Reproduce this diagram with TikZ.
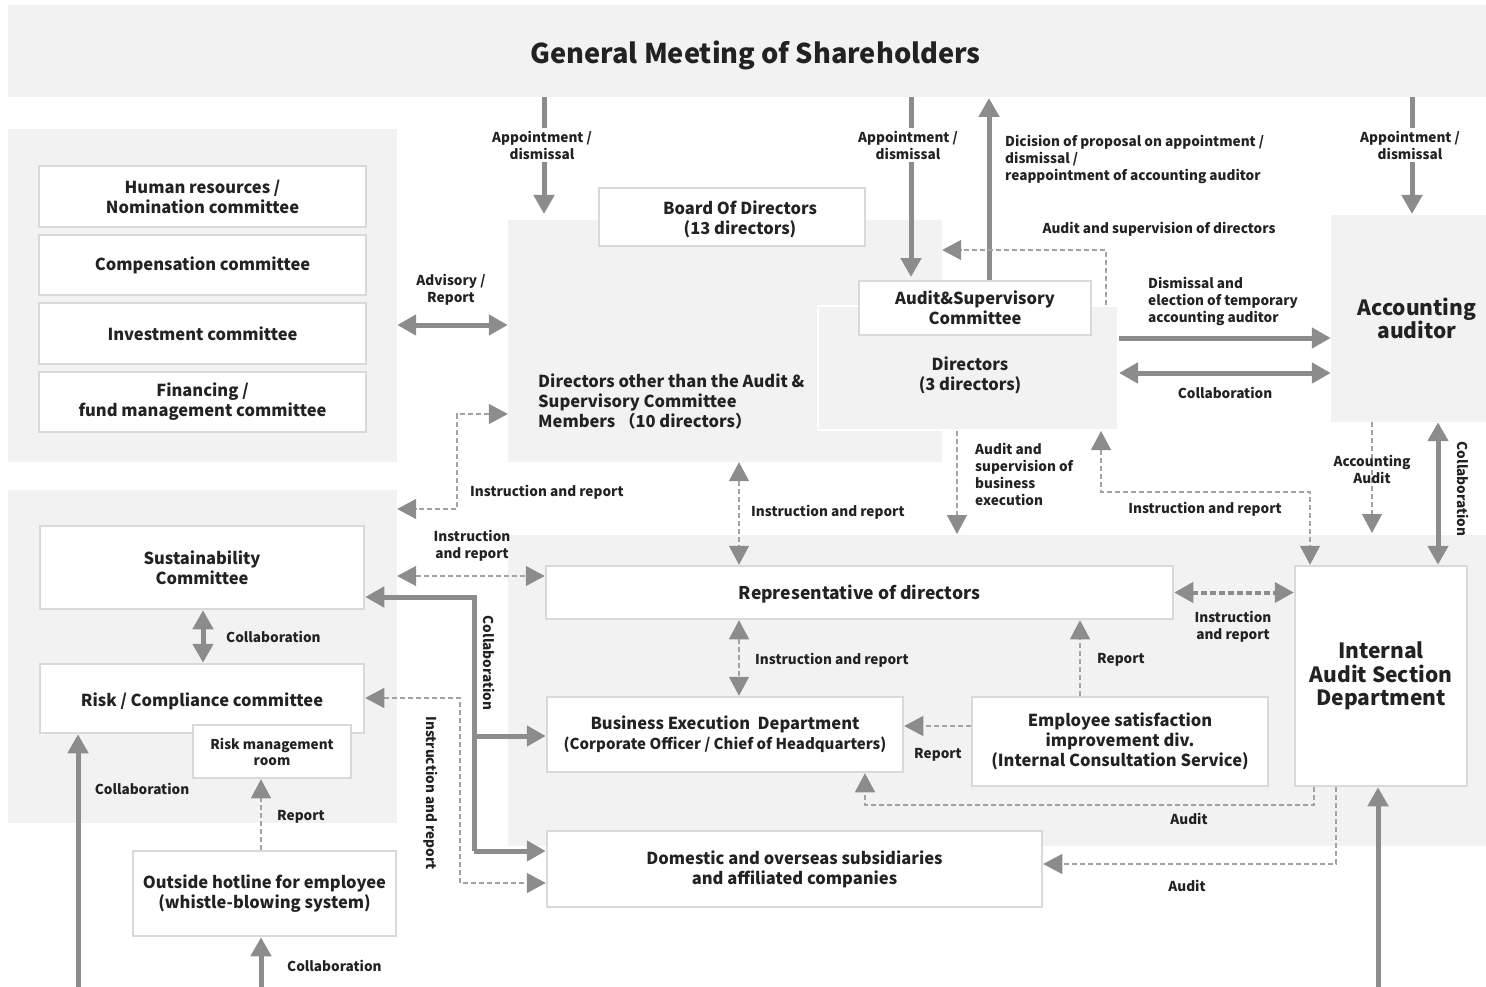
\documentclass[tikz,border=0pt]{standalone}
\usepackage{fontspec}
\setmainfont{Noto Sans CJK JP}
\usetikzlibrary{arrows.meta,calc}
\definecolor{panel}{HTML}{F2F2F2}
\definecolor{bord}{HTML}{D9D9D9}
\definecolor{agray}{HTML}{8C8C8C}
\definecolor{dgray}{HTML}{A3A3A3}
\definecolor{txt}{HTML}{222222}
\tikzset{
  panelbox/.style={fill=panel, draw=none, inner sep=0pt, text=txt, align=center},
  wbox/.style={fill=white, draw=bord, line width=2.5pt, align=center, inner sep=0pt, text=txt, font=\bfseries\fontsize{16.5}{20}\selectfont},
  boxtext/.style={inner sep=0pt, align=center, text=txt, font=\bfseries\fontsize{16.5}{20}\selectfont},
  bigtxt/.style={font=\bfseries\fontsize{21}{23.5}\selectfont},
  lbl/.style={font=\bfseries\fontsize{13.6}{17}\selectfont, text=txt, inner sep=0pt, align=center},
  bigarr/.style={draw=agray, line width=5pt, -{Triangle[length=19pt,width=20pt]}},
  bigdbl/.style={draw=agray, line width=5pt, {Triangle[length=19pt,width=20pt]}-{Triangle[length=19pt,width=20pt]}},
  dasharr/.style={draw=dgray, line width=1.3pt, dash pattern=on 5pt off 3pt, -{Triangle[length=19pt,width=20pt,color=agray]}},
  dashdbl/.style={draw=dgray, line width=1.3pt, dash pattern=on 5pt off 3pt, {Triangle[length=19pt,width=20pt,color=agray]}-{Triangle[length=19pt,width=20pt,color=agray]}},
  thickdashdbl/.style={draw=agray, line width=4pt, dash pattern=on 6pt off 3pt, {Triangle[length=19pt,width=20pt]}-{Triangle[length=19pt,width=20pt]}},
}
\begin{document}
\begin{tikzpicture}[x=1pt,y=-1pt]
\useasboundingbox (0,0) rectangle (1486,987);

% ---------- panels ----------
\node[panelbox, minimum width=1495pt, minimum height=92pt, font=\bfseries\fontsize{27.2}{30}\selectfont] (gms) at (755.5,51) {\raisebox{-4pt}[\height][\depth]{General Meeting of Shareholders}};
\node[panelbox, minimum width=389pt, minimum height=333pt] (pl1) at (202.5,295.5) {};
\node[panelbox, minimum width=389pt, minimum height=333pt] (pl2) at (202.5,656.5) {};
\node[panelbox, minimum width=434pt, minimum height=242pt] (dirs) at (725,341) {};
\node[panelbox, minimum width=995pt, minimum height=311pt] (pb) at (1005.5,690.5) {};
\node[panelbox, bigtxt, minimum width=172pt, minimum height=207pt] (acct) at (1417,318.5) {Accounting\\auditor};

% ---------- committees ----------
\node[wbox, minimum width=327pt, minimum height=61pt] (hr) at (202.5,196.5) {Human resources /\\Nomination committee};
\node[wbox, minimum width=327pt, minimum height=60pt] (comp) at (202.5,265) {Compensation committee};
\node[wbox, minimum width=327pt, minimum height=61pt] (inv) at (202.5,333.5) {Investment committee};
\node[wbox, minimum width=327pt, minimum height=60pt] (fin) at (202.5,402) {Financing /\\fund management committee};

% ---------- board ----------
\node[wbox, minimum width=266pt, minimum height=58pt] (board) at (732,217) {};
\node[boxtext] (boardtext) at (740,219) {Board Of Directors\\(13 directors)};
\node[anchor=west, align=left, inner sep=0pt, text=txt, font=\bfseries\fontsize{16.5}{20}\selectfont] (dirstext) at (538,401) {Directors other than the Audit \&\\Supervisory Committee\\Members （10 directors）};
\node[fill=panel, draw=white, line width=2pt, minimum width=300pt, minimum height=124pt] (adirs) at (968,368) {};
\node[boxtext] (adirstext) at (970,375) {Directors\\(3 directors)};
\node[wbox, minimum width=232pt, minimum height=54pt] (acom) at (975,308) {Audit\&Supervisory\\Committee};

% ---------- lower left ----------
\node[wbox, minimum width=324pt, minimum height=83pt] (sus) at (202,567.5) {Sustainability\\Committee};
\node[wbox, minimum width=324pt, minimum height=69pt] (risk) at (202,698.5) {\raisebox{-3pt}[\height][\depth]{Risk / Compliance committee}};
\node[wbox, minimum width=158pt, minimum height=53pt, font=\bfseries\fontsize{13.5}{16}\selectfont] (rmr) at (272,751.5) {Risk management\\room};
\node[wbox, minimum width=263pt, minimum height=85pt] (hot) at (264.5,893.5) {Outside hotline for employee\\(whistle-blowing system)};

% ---------- lower middle ----------
\node[wbox, minimum width=627pt, minimum height=53pt, font=\bfseries\fontsize{17.5}{20}\selectfont] (rep) at (859.5,592.5) {\raisebox{-2pt}[\height][\depth]{Representative of directors}};
\node[wbox, minimum width=356pt, minimum height=75pt] (bex) at (725,734.5) {Business Execution\ \ Department\\{\fontsize{15}{20}\selectfont (Corporate Officer / Chief of Headquarters)}};
\node[wbox, minimum width=296pt, minimum height=89pt] (esd) at (1120,741.5) {Employee satisfaction\\improvement div.\\(Internal Consultation Service)};
\node[wbox, minimum width=495pt, minimum height=76pt] (dom) at (794.5,869) {Domestic and overseas subsidiaries\\and affiliated companies};
\node[wbox, bigtxt, minimum width=172pt, minimum height=220pt] (iad) at (1381,676) {Internal\\Audit Section\\Department};

% ---------- helper coordinates ----------
\coordinate (x544) at (544,214);
\coordinate (x911) at (911,277);
\coordinate (x989) at (989,98);
\coordinate (x1412) at (1412,214);
\coordinate (a1) at (1106,250);
\coordinate (a2) at (957,534);
\coordinate (a3) at (1101,492);
\coordinate (a4) at (1310,492);
\coordinate (a5) at (1372,533);
\coordinate (a6) at (1438,0);
\coordinate (a7) at (739,0);
\coordinate (a8) at (1080,0);
\coordinate (a9) at (1314,805);
\coordinate (a10) at (865,805);
\coordinate (a11) at (1336,864);
\coordinate (b1) at (1378,987);
\coordinate (l1) at (457,414);
\coordinate (l2) at (457,509);
\coordinate (k1) at (474,597);
\coordinate (k2) at (474,736);
\coordinate (k3) at (474,851);
\coordinate (m1) at (460,698);
\coordinate (m2) at (460,883);
\coordinate (n1) at (203,0);
\coordinate (n2) at (261,0);
\coordinate (b2) at (78,987);
\coordinate (b3) at (261,987);
\coordinate (r1) at (0,576);
\coordinate (d1) at ([yshift=30pt]adirs.east);
\coordinate (d2) at ([yshift=-5pt]adirs.east);
\coordinate (e1) at ([yshift=15.5pt]esd.west);
\coordinate (f1) at ([yshift=16pt]dirs.west);

% ---------- connectors from the General Meeting ----------
\draw[bigarr] (gms.south -| x544) -- (x544);
\node[lbl, fill=white, inner ysep=3pt] (lap1) at (542,145) {Appointment /\\dismissal};
\draw[bigarr] (gms.south -| x911) -- (x911);
\node[lbl, fill=white, inner ysep=3pt] (lap2) at (908,145) {Appointment /\\dismissal};
\draw[bigarr] (acom.north -| x989) -- (x989);
\node[lbl, anchor=north west, align=left] (ldec) at (1005,135) {Dicision of proposal on appointment /\\dismissal /\\reappointment of accounting auditor};
\draw[bigarr] (gms.south -| x1412) -- (x1412);
\node[lbl, fill=white, inner ysep=3pt] (lap3) at (1410,145) {Appointment /\\dismissal};

% ---------- audit committee area ----------
\draw[dasharr] (adirs.north -| a1) -- (a1) -- (dirs.east |- a1);
\node[lbl] (lasd) at (1159,229) {Audit and supervision of directors};
\draw[bigarr] (d1) -- (d1 -| acct.west);
\node[lbl, anchor=west, align=left] (ldis) at (1148,301) {Dismissal and\\election of temporary\\accounting auditor};
\draw[bigdbl] (d2) -- (d2 -| acct.west);
\node[lbl] (lcol1) at (1225,393) {Collaboration};
\draw[dasharr] (adirs.south -| a2) -- (a2);
\node[lbl, anchor=north west, align=left] (lasbe) at (975,443) {Audit and\\supervision of\\business\\execution};
\draw[dashdbl] (adirs.south -| a3) -- (a3) -- (a4) -- (iad.north -| a4);
\node[lbl] (lir4) at (1205,509) {Instruction and report};
\draw[dasharr] (acct.south -| a5) -- (a5);
\node[lbl] (laa) at (1372,469) {Accounting\\Audit};
\draw[bigdbl] (acct.south -| a6) -- (iad.north -| a6);
\node[lbl, rotate=-90] (lcol2) at (1463,489) {Collaboration};

% ---------- left / board ----------
\draw[bigdbl] (pl1.east |- f1) -- (f1);
\node[lbl] (ladv) at (451,290) {Advisory /\\Report};
\draw[dashdbl] (dirs.west |- l1) -- (l1) -- (l2) -- (pl2.east |- l2);
\node[lbl, anchor=west] (lir1) at (470,492) {Instruction and report};
\draw[dashdbl] (pl2.east |- r1) -- (rep.west |- r1);
\node[lbl] (lir2) at (472,546) {Instruction\\and report};
\draw[dashdbl] (dirs.south -| a7) -- (rep.north -| a7);
\node[lbl, anchor=west] (lir3) at (751,512) {Instruction and report};
\draw[dashdbl] (rep.south -| a7) -- (bex.north -| a7);
\node[lbl, anchor=west] (lir5) at (755,660) {Instruction and report};

% ---------- lower middle connectors ----------
\draw[thickdashdbl] (rep.east) -- (rep.east -| iad.west);
\node[lbl] (lir6) at (1233,627) {Instruction\\and report};
\draw[dasharr] (esd.north -| a8) -- (rep.south -| a8);
\node[lbl, anchor=west] (lrep1) at (1097,660) {Report};
\draw[dasharr] (e1) -- (e1 -| bex.east);
\node[lbl] (lrep2) at (938,755) {Report};
\draw[dasharr] (iad.south -| a9) -- (a9) -- (a10) -- (bex.south -| a10);
\node[lbl] (lau1) at (1189,819) {Audit};
\draw[dasharr] (iad.south -| a11) -- (a11) -- (dom.east |- a11);
\node[lbl] (lau2) at (1187,886) {Audit};
\draw[bigarr] (b1) -- (iad.south -| b1);

% ---------- collaboration trunk ----------
\draw[bigarr] (k3) -- (k1) -- (sus.east |- k1);
\draw[bigarr] (k2) -- (bex.west |- k2);
\draw[bigarr] (k3) -- (dom.west |- k3);
\node[lbl, rotate=-90] (lcol3) at (489,663) {Collaboration};
\draw[dashdbl] (risk.east |- m1) -- (m1) -- (m2) -- (dom.west |- m2);
\node[lbl, rotate=-90] (lir7) at (431,793) {Instruction and report};

% ---------- lower left connectors ----------
\draw[bigdbl] (sus.south -| n1) -- (risk.north -| n1);
\node[lbl, anchor=west] (lcol4) at (226,637) {Collaboration};
\draw[dasharr] (hot.north -| n2) -- (rmr.south -| n2);
\node[lbl, anchor=west] (lrep3) at (277,817) {Report};
\draw[bigarr] (b2) -- (risk.south -| b2);
\node[lbl] (lcol5) at (142,789) {Collaboration};
\draw[bigarr] (b3) -- (hot.south -| b3);
\node[lbl, anchor=west] (lcol6) at (287,966) {Collaboration};
\end{tikzpicture}
\end{document}
